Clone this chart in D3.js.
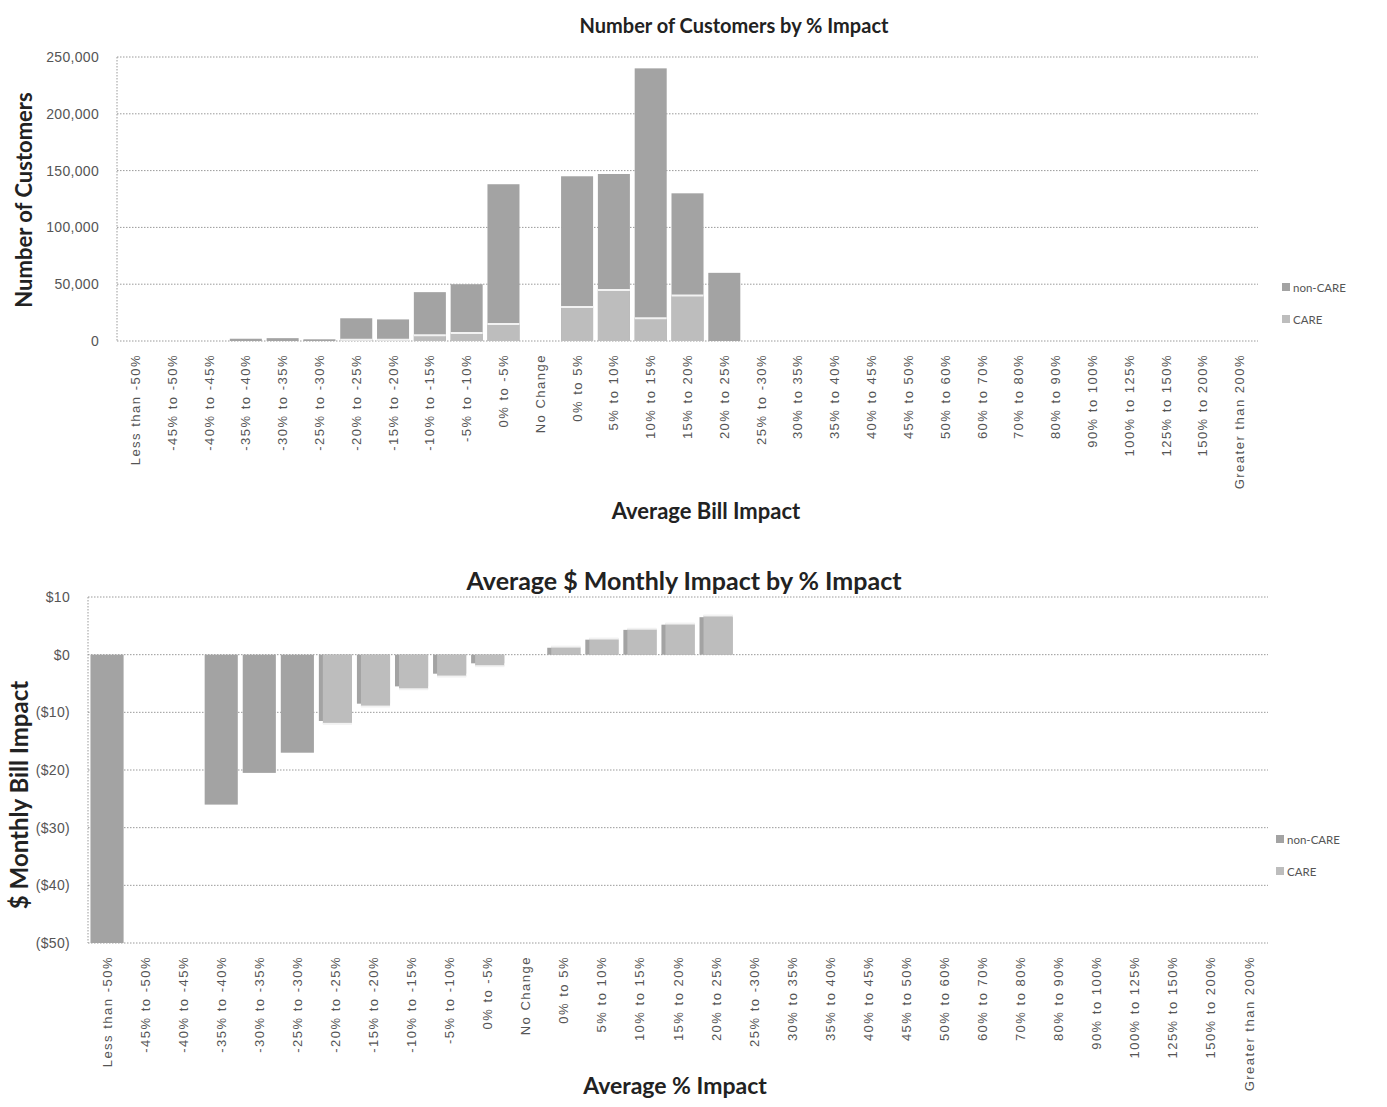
<!DOCTYPE html>
<html>
<head>
<meta charset="utf-8">
<script src="https://cdn.jsdelivr.net/npm/d3@7"></script>
<style>
  html, body { margin: 0; padding: 0; background: #fff; }
  svg { display: block; font-family: Lato, "Open Sans", sans-serif; }
  .tick-label { fill: #555; font-size: 14px; letter-spacing: 0.3px; }
  .cat-label { fill: #555; font-size: 13px; letter-spacing: 1.5px; }
  .title { fill: #222; font-weight: bold; }
  .axis-title { fill: #222; font-weight: bold; }
  .legend-text { fill: #555; font-size: 11.5px; }
</style>
</head>
<body>
<svg id="chart" width="1387" height="1107"></svg>
<script>
// Bill-impact bins shared by both panels
const categories = [
  "Less than -50%", "-45% to -50%", "-40% to -45%", "-35% to -40%", "-30% to -35%",
  "-25% to -30%", "-20% to -25%", "-15% to -20%", "-10% to -15%", "-5% to -10%",
  "0% to -5%", "No Change", "0% to 5%", "5% to 10%", "10% to 15%", "15% to 20%",
  "20% to 25%", "25% to -30%", "30% to 35%", "35% to 40%", "40% to 45%", "45% to 50%",
  "50% to 60%", "60% to 70%", "70% to 80%", "80% to 90%", "90% to 100%",
  "100% to 125%", "125% to 150%", "150% to 200%", "Greater than 200%"
];

// Panel 1: number of customers per bin
const customersNonCare = [0, 0, 0, 2000, 2500, 1500, 20000, 19000, 43000, 50000,
  138000, 0, 145000, 147000, 240000, 130000, 60000, 0, 0, 0, 0, 0, 0, 0, 0, 0, 0, 0, 0, 0, 0];
const customersCare = [0, 0, 0, 0, 0, 0, 1000, 1000, 5000, 7000,
  15000, 0, 30000, 45000, 20000, 40000, 0, 0, 0, 0, 0, 0, 0, 0, 0, 0, 0, 0, 0, 0, 0];
const customerTicks = [0, 50000, 100000, 150000, 200000, 250000];

// Panel 2: average $ monthly bill impact per bin
const impactNonCare = [-50, null, null, -26, -20.5, -17, -11.5, -8.5, -5.5, -3.3,
  -1.5, null, 1.2, 2.6, 4.3, 5.2, 6.5, null, null, null, null, null, null, null, null, null, null, null, null, null, null];
const impactCare = [null, null, null, null, null, null, -12, -9, -6, -3.8,
  -2, null, 1.4, 2.8, 4.5, 5.4, 6.8, null, null, null, null, null, null, null, null, null, null, null, null, null, null];
const impactTicks = [10, 0, -10, -20, -30, -40, -50];

const seriesNames = ["non-CARE", "CARE"];
const colors = { "non-CARE": "#a3a3a3", "CARE": "#bdbdbd" };

const svg = d3.select("#chart");

function drawPanel(cfg) {
  const g = svg.append("g");
  const x = d3.scaleBand().domain(categories).range([cfg.x0, cfg.x1]).paddingInner(0.13).paddingOuter(0.065);
  const y = d3.scaleLinear().domain(cfg.domain).range([cfg.yBottom, cfg.yTop]);

  // horizontal gridlines
  g.selectAll("line.grid").data(cfg.ticks).join("line")
    .attr("x1", cfg.x0).attr("x2", cfg.x1)
    .attr("y1", d => y(d)).attr("y2", d => y(d))
    .attr("stroke", "#9a9a9a").attr("stroke-width", 1).attr("stroke-dasharray", "1.5,1.5");
  // left wall edge
  g.append("line")
    .attr("x1", cfg.x0).attr("x2", cfg.x0)
    .attr("y1", y(cfg.domain[1])).attr("y2", y(cfg.domain[0]))
    .attr("stroke", "#9a9a9a").attr("stroke-dasharray", "1.5,1.5");

  // y axis
  const yAxis = d3.axisLeft(y).tickValues(cfg.ticks).tickFormat(cfg.fmt).tickSize(0).tickPadding(0);
  const ya = g.append("g").attr("transform", `translate(${cfg.labelX},0)`).call(yAxis);
  ya.select(".domain").remove();
  ya.selectAll("text").attr("class", "tick-label").attr("font-family", null).attr("font-size", null);

  const zero = y(0);
  const barRect = (sel, vals, name, inset) => {
    sel.selectAll("rect." + name.replace(/\W/g, "")).data(categories.map((c, i) => ({ c, v: vals[i] })).filter(d => d.v != null && d.v !== 0))
      .join("rect")
      .attr("x", d => x(d.c) + inset)
      .attr("width", x.bandwidth() - inset)
      .attr("y", d => Math.min(y(d.v), zero))
      .attr("height", d => Math.abs(y(d.v) - zero))
      .attr("fill", colors[name]);
  };
  barRect(g, cfg.back, "non-CARE", 0);
  barRect(g, cfg.front, "CARE", cfg.frontInset);

  // light edge on top of the front bars
  g.selectAll("line.edge").data(categories.map((c, i) => ({ c, v: cfg.front[i] })).filter(d => d.v != null && d.v !== 0))
    .join("line")
    .attr("x1", d => x(d.c) + cfg.frontInset).attr("x2", d => x(d.c) + x.bandwidth())
    .attr("y1", d => y(d.v)).attr("y2", d => y(d.v))
    .attr("stroke", "#f2f2f2").attr("stroke-width", 2);

  // category labels
  const xAxis = d3.axisBottom(x).tickSize(0).tickPadding(0);
  const xa = g.append("g").attr("transform", `translate(0,${cfg.catY})`).call(xAxis);
  xa.select(".domain").remove();
  xa.selectAll("text")
    .attr("class", "cat-label").attr("font-family", null).attr("font-size", null)
    .attr("transform", "rotate(-90)")
    .attr("text-anchor", "end").attr("dx", 0).attr("dy", "0.35em").attr("x", 0).attr("y", 0);

  // titles
  svg.append("text").attr("class", "title").attr("x", cfg.titleX).attr("y", cfg.titleY)
    .attr("font-size", cfg.titleSize).attr("text-anchor", "middle").text(cfg.title);
  svg.append("text").attr("class", "axis-title").attr("x", cfg.xTitleX).attr("y", cfg.xTitleY)
    .attr("font-size", cfg.xTitleSize).attr("text-anchor", "middle").text(cfg.xTitle);
  svg.append("text").attr("class", "axis-title")
    .attr("font-size", cfg.yTitleSize)
    .attr("transform", `translate(${cfg.yTitleX},${cfg.yTitleY}) rotate(-90)`)
    .attr("text-anchor", "middle").text(cfg.yTitle);

  // legend
  const lg = svg.append("g").attr("transform", `translate(${cfg.legendX},${cfg.legendY})`);
  seriesNames.forEach((s, i) => {
    lg.append("rect").attr("x", 0).attr("y", i * 32 - 5).attr("width", 8).attr("height", 8).attr("fill", colors[s]);
    lg.append("text").attr("class", "legend-text").attr("x", 11).attr("y", i * 32).attr("dy", "0.35em").text(s);
  });
}

drawPanel({
  x0: 117, x1: 1258, yTop: 57, yBottom: 341, domain: [0, 250000],
  ticks: customerTicks, fmt: d3.format(","), labelX: 99,
  back: customersNonCare, front: customersCare, frontInset: 0,
  catY: 354,
  title: "Number of Customers by % Impact", titleX: 734, titleY: 33, titleSize: 20,
  xTitle: "Average Bill Impact", xTitleX: 706, xTitleY: 519, xTitleSize: 22,
  yTitle: "Number of Customers", yTitleX: 32, yTitleY: 200, yTitleSize: 22,
  legendX: 1282, legendY: 288
});

drawPanel({
  x0: 88, x1: 1268, yTop: 597, yBottom: 943, domain: [-50, 10],
  ticks: impactTicks, fmt: d => d < 0 ? `($${-d})` : `$${d}`, labelX: 70,
  back: impactNonCare, front: impactCare, frontInset: 4,
  catY: 956,
  title: "Average $ Monthly Impact by % Impact", titleX: 684, titleY: 590, titleSize: 25,
  xTitle: "Average % Impact", xTitleX: 675, xTitleY: 1094, xTitleSize: 23,
  yTitle: "$ Monthly Bill Impact", yTitleX: 28, yTitleY: 795, yTitleSize: 24,
  legendX: 1276, legendY: 840
});
</script>
</body>
</html>
